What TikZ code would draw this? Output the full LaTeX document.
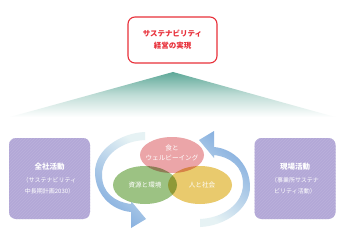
\documentclass[tikz,border=0pt]{standalone}
\usepackage{fontspec}
\setmainfont{Noto Sans CJK JP}
\usetikzlibrary{shapes.geometric,patterns}
\definecolor{goalred}{HTML}{E8303A}
\definecolor{roofteal}{HTML}{5EA898}
\definecolor{actpurple}{HTML}{B3A8D7}
\definecolor{shokupink}{HTML}{EBA5A8}
\definecolor{kankyogreen}{HTML}{9CC283}
\definecolor{shakaiyellow}{HTML}{E9CA6D}
\definecolor{arrdark}{HTML}{3A69AE}
\definecolor{arrmid}{HTML}{7DA9DD}
\definecolor{arrlight}{HTML}{E6F2F4}
\begin{document}
\begin{tikzpicture}[x=1pt,y=1pt]
  \tikzset{goalbox/.style={draw=goalred,line width=1.1pt,rounded corners=7pt,fill=white,minimum width=89pt,minimum height=46pt,
      text=goalred,align=center,font=\fontsize{7.5}{12}\selectfont\bfseries},
    actbox/.style={fill=actpurple,rounded corners=7pt,minimum width=81pt,minimum height=81pt,text=white,align=center,
      font=\fontsize{6}{11}\selectfont,postaction={pattern=north east lines,pattern color=actpurple!90!white}},
    field/.style={ellipse,minimum width=64pt,minimum height=36pt,inner sep=0pt},
    fieldtext/.style={text=white,align=center,font=\fontsize{6.6}{10}\selectfont}}
  \useasboundingbox (0,0) rectangle (350,233);
  \fill[white] (0,0) rectangle (350,233);
  % roof
  \shade[top color=roofteal,bottom color=white,middle color=roofteal!40!white] (173,161) -- (335,116) -- (10,116) -- cycle;
  \node[goalbox] (goal) at (172.5,193) {サステナビリティ\\経営の実現};
  \node[actbox] (zensha) at (49.5,54.5) {{\fontsize{7.5}{11}\selectfont\bfseries 全社活動}\\[2pt]（サステナビリティ\\中長期計画2030）};
  \node[actbox] (genba) at (295,54.5) {{\fontsize{7.5}{11}\selectfont\bfseries 現場活動}\\[2pt]（事業所サステナ\\ビリティ活動）};
  % cycle arrows
  \shade[top color=arrlight,middle color=arrdark,bottom color=arrmid,shading angle=-40]
    (145,101) .. controls (120,100) and (95,83) .. (95,61) .. controls (95,40) and (110,23) .. (131,21)
    -- (131,5) -- (146,14) -- (131,32) -- (131,29) .. controls (115,31) and (102,40) .. (102,58)
    .. controls (102,78) and (122,92) .. (145,93) -- cycle;
  \shade[top color=arrlight,middle color=arrdark,bottom color=arrmid,shading angle=140]
    (200,6) .. controls (225,7) and (250,24) .. (250,46) .. controls (250,67) and (235,84) .. (214,86)
    -- (214,102) -- (199,93) -- (214,75) -- (214,78) .. controls (230,76) and (243,67) .. (243,49)
    .. controls (243,29) and (223,15) .. (200,14) -- cycle;
  \begin{scope}[blend group=multiply]
    \node[field,fill=shokupink] (shoku) at (172,78) {};
    \node[field,fill=kankyogreen,minimum height=38pt] (kankyo) at (145,48) {};
    \node[field,fill=shakaiyellow,minimum height=38pt] (shakai) at (200,48) {};
  \end{scope}
  \node[fieldtext] (shokut) at (172,80) {食と\\ウェルビーイング};
  \node[fieldtext] (kankyot) at (145,48) {資源と環境};
  \node[fieldtext] (shakait) at (202,48) {人と社会};
\end{tikzpicture}
\end{document}
